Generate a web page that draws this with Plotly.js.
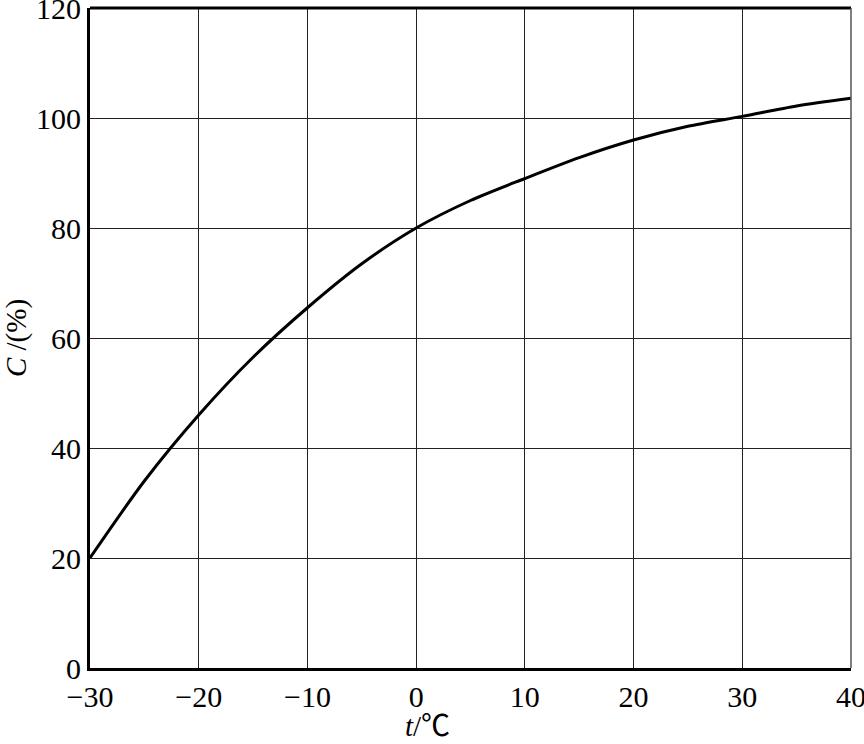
<!DOCTYPE html>
<html>
<head>
<meta charset="utf-8">
<script src="https://cdn.plot.ly/plotly-3.0.1.min.js"></script>
<style>html,body{margin:0;padding:0;background:#fff;}#chart{width:864px;height:744px;}</style>
</head>
<body>
<div id="chart"></div>
<script>
const temperature = [-30, -25, -20, -15, -10, -5, 0, 5, 10, 15, 20, 25, 30, 35, 40];
const capacity = [20, 34, 46, 56.5, 65.5, 73.5, 80, 85, 89, 92.8, 96, 98.5, 100.3, 102.2, 103.6];
const xTicks = [-30, -20, -10, 0, 10, 20, 30, 40];
const xTickText = ['\u221230', '\u221220', '\u221210', '0', '10', '20', '30', '40'];
const yTicks = [0, 20, 40, 60, 80, 100, 120];

const fam = 'Liberation Serif, "Noto Sans CJK SC", serif';
const font = {family: fam, color: '#000', size: 30};

Plotly.newPlot('chart', [{
  x: temperature, y: capacity, mode: 'lines',
  line: {color: '#000', width: 3, shape: 'spline', smoothing: 0.8},
  hoverinfo: 'skip'
}], {
  width: 864, height: 744,
  margin: {l: 90, r: 13, t: 8, b: 76},
  paper_bgcolor: '#fff', plot_bgcolor: '#fff',
  showlegend: false,
  font: font,
  xaxis: {
    range: [-30, 40], tickvals: xTicks, ticktext: xTickText,
    showgrid: true, gridcolor: '#222', gridwidth: 1, zeroline: false,
    showline: true, linecolor: '#000', linewidth: 3,
    ticks: '', ticklen: 0, tickfont: font, ticklabeloverflow: 'allow',
    automargin: false
  },
  yaxis: {
    range: [0, 120], tickvals: yTicks,
    showgrid: true, gridcolor: '#222', gridwidth: 1, zeroline: false,
    showline: true, linecolor: '#000', linewidth: 3,
    ticks: '', ticklen: 0, tickfont: font, ticklabeloverflow: 'allow',
    automargin: false,
    title: {text: '<i>C</i> /(%)', font: {family: fam, color: '#000', size: 29}, standoff: 8}
  },
  annotations: [
    {text: '<i>t</i>/\u2103', xref: 'paper', yref: 'paper', x: 0.444, y: 0, yshift: -40,
     xanchor: 'center', yanchor: 'top', showarrow: false, font: {family: fam, color: '#000', size: 29}}
  ],
  shapes: [
    {type: 'line', xref: 'paper', yref: 'paper', x0: 0, x1: 1, y0: 1, y1: 1, line: {color: '#000', width: 3}},
    {type: 'line', xref: 'paper', yref: 'paper', x0: 1, x1: 1, y0: 0, y1: 1, line: {color: '#555', width: 1.5}}
  ]
}, {displayModeBar: false, staticPlot: true});
</script>
</body>
</html>
